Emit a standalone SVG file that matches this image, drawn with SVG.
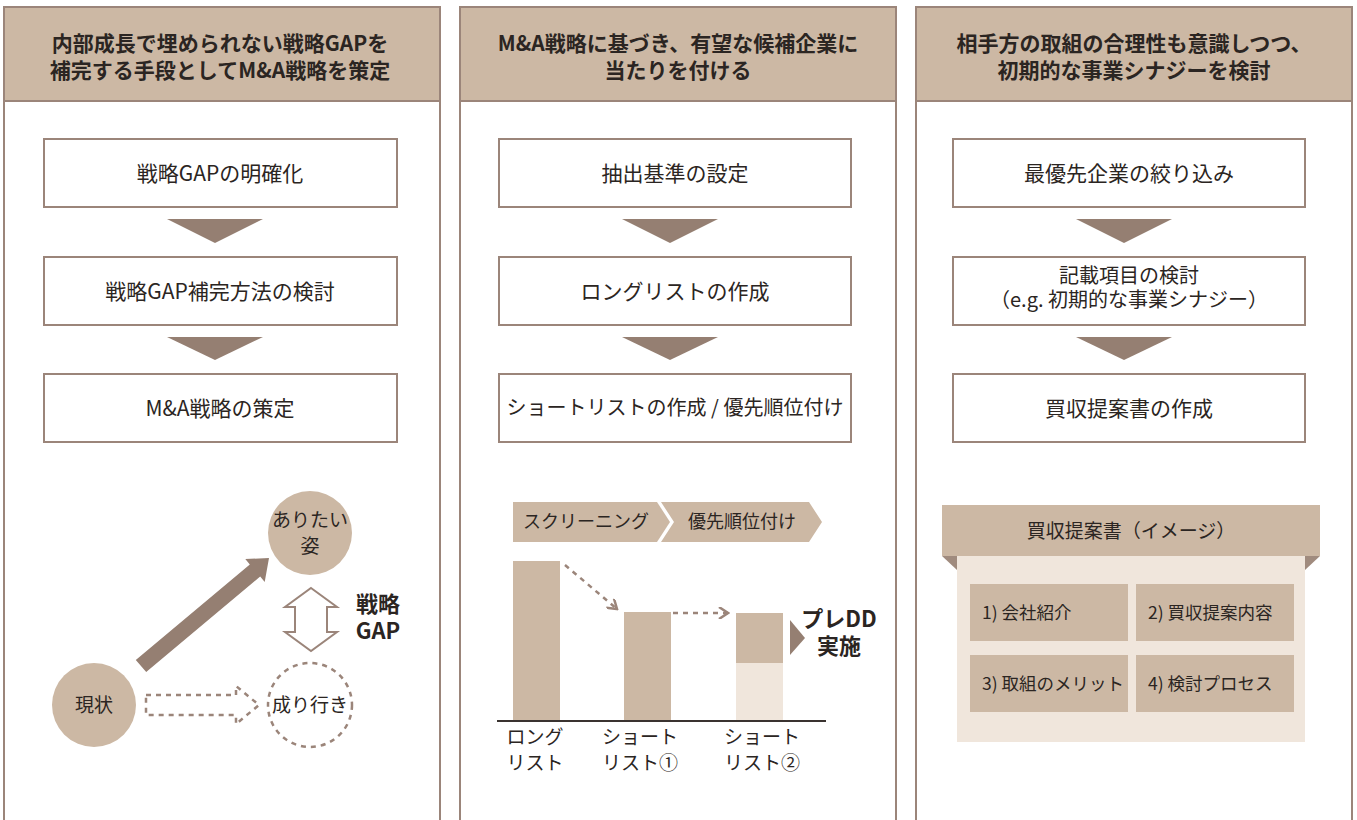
<svg xmlns="http://www.w3.org/2000/svg" width="1357" height="820" viewBox="0 0 1357 820">
<defs>
<style>
text{font-family:"Noto Sans CJK JP","Noto Sans",sans-serif;fill:#2b2522;text-anchor:middle}
.hd{font-size:21px;font-weight:bold}
.bx{font-size:21px}
.bx2{font-size:20px}
.sm{font-size:19px}
.ph{font-size:18px}
.lb{font-size:17.5px;text-anchor:start}
.bd{font-size:22px;font-weight:bold}
.panel{fill:#fff;stroke:#9b857a;stroke-width:2}
.hdr{fill:#ccb8a4;stroke:#9b857a;stroke-width:2}
.box{fill:#fff;stroke:#9b857a;stroke-width:2}
.tri{fill:#957f72}
.tan{fill:#ccb8a4}
.light{fill:#f0e6dc}
.dash{fill:none;stroke:#9b857a;stroke-width:2.5;stroke-dasharray:5 5}
</style>
<marker id="chev" viewBox="0 0 12 12" refX="10" refY="6" markerWidth="12" markerHeight="12" markerUnits="userSpaceOnUse" orient="auto">
<path d="M1,0 L10,6 L1,12" fill="none" stroke="#9b857a" stroke-width="2.5"/>
</marker>
</defs>
<rect width="1357" height="820" fill="#fff"/>

<g id="panel1">
<path class="panel" d="M4,830 V7 H440 V830"/>
<rect class="hdr" x="4" y="7" width="436" height="94"/>
<text class="hd" x="220" y="51">内部成長で埋められない戦略GAPを</text>
<text class="hd" x="220" y="78">補完する手段としてM&amp;A戦略を策定</text>
</g>
<g id="panel2">
<path class="panel" d="M460,830 V7 H896 V830"/>
<rect class="hdr" x="460" y="7" width="436" height="94"/>
<text class="hd" x="678" y="51">M&amp;A戦略に基づき、有望な候補企業に</text>
<text class="hd" x="678" y="78">当たりを付ける</text>
</g>
<g id="panel3">
<path class="panel" d="M916,830 V7 H1352 V830"/>
<rect class="hdr" x="916" y="7" width="436" height="94"/>
<text class="hd" x="1134" y="51">相手方の取組の合理性も意識しつつ、</text>
<text class="hd" x="1134" y="78">初期的な事業シナジーを検討</text>
</g>

<g id="step1-1"><rect class="box" x="44" y="139" width="353" height="68"/><text class="bx" x="220" y="181">戦略GAPの明確化</text></g>
<g id="step1-2"><rect class="box" x="44" y="257" width="353" height="68"/><text class="bx" x="220" y="299">戦略GAP補完方法の検討</text></g>
<g id="step1-3"><rect class="box" x="44" y="374" width="353" height="68"/><text class="bx" x="220" y="416">M&amp;A戦略の策定</text></g>

<g id="step2-1"><rect class="box" x="499" y="139" width="352" height="68"/><text class="bx" x="675" y="181">抽出基準の設定</text></g>
<g id="step2-2"><rect class="box" x="499" y="257" width="352" height="68"/><text class="bx" x="675" y="299">ロングリストの作成</text></g>
<g id="step2-3"><rect class="box" x="499" y="374" width="352" height="68"/><text class="bx2" x="675" y="415">ショートリストの作成 / 優先順位付け</text></g>

<g id="step3-1"><rect class="box" x="953" y="139" width="352" height="68"/><text class="bx" x="1129" y="181">最優先企業の絞り込み</text></g>
<g id="step3-2"><rect class="box" x="953" y="257" width="352" height="68"/><text class="bx2" x="1129" y="283">記載項目の検討</text><text class="bx2" x="1129" y="307">（e.g. 初期的な事業シナジー）</text></g>
<g id="step3-3"><rect class="box" x="953" y="374" width="352" height="68"/><text class="bx" x="1129" y="416">買収提案書の作成</text></g>

<g id="connectors">
<polygon class="tri" points="167,219 263,219 215,243"/>
<polygon class="tri" points="167,337 263,337 215,360"/>
<polygon class="tri" points="622,219 718,219 670,243"/>
<polygon class="tri" points="622,337 718,337 670,360"/>
<polygon class="tri" points="1076,219 1172,219 1124,243"/>
<polygon class="tri" points="1076,337 1172,337 1124,360"/>
<polygon fill="#957f72" points="135.8,659.9 249.8,564.4 245.3,559 269,558 264.7,582 260.2,576.6 146.2,672.1"/>
<polygon fill="#fff" stroke="#9b857a" stroke-width="2" points="311,588 337,607 327,607 327,632 337,632 311,651 285,632 295,632 295,607 285,607"/>
<polygon class="dash" stroke-width="2" points="146,695 236,695 236,686 259,705 236,724 236,715 146,715"/>
<line class="dash" x1="565" y1="565" x2="617" y2="609" marker-end="url(#chev)"/>
<line class="dash" x1="673" y1="613" x2="728" y2="613" marker-end="url(#chev)"/>
</g>

<g id="ideal"><circle class="tan" cx="310" cy="533" r="42"/><text class="sm" x="310" y="527">ありたい</text><text class="sm" x="310" y="553">姿</text></g>
<g id="current"><circle class="tan" cx="94" cy="705" r="42"/><text class="sm" x="94" y="712">現状</text></g>
<g id="trend"><circle cx="310" cy="705" r="42" fill="#fff" class="dash" stroke-width="2.5"/><text class="sm" x="310" y="712">成り行き</text></g>
<g id="gap-label"><text class="bd" x="378" y="612">戦略</text><text class="bd" x="378" y="639">GAP</text></g>

<g id="phase">
<polygon class="tan" points="513,502 657,502 670,522 657,542 513,542"/>
<polygon class="tan" points="661,502 809,502 822,522 809,542 661,542 674,522"/>
<text class="ph" x="586" y="528">スクリーニング</text>
<text class="ph" x="742" y="528">優先順位付け</text>
</g>

<g id="bars">
<rect class="tan" x="513" y="561" width="47" height="160"/>
<rect class="tan" x="624" y="612" width="47" height="109"/>
<rect class="tan" x="736" y="613" width="47" height="50"/>
<rect class="light" x="736" y="663" width="47" height="58"/>
<line x1="497" y1="721" x2="826" y2="721" stroke="#3a3330" stroke-width="2"/>
<text class="sm" x="535" y="744">ロング</text><text class="sm" x="535" y="770">リスト</text>
<text class="sm" x="640" y="744">ショート</text><text class="sm" x="640" y="770">リスト①</text>
<text class="sm" x="762" y="744">ショート</text><text class="sm" x="762" y="770">リスト②</text>
</g>

<g id="prdd">
<polygon fill="#957f72" points="790,620 805,638 790,655"/>
<text class="bd" x="839" y="627">プレDD</text>
<text class="bd" x="839" y="654">実施</text>
</g>

<g id="proposal">
<rect class="light" x="957" y="556" width="348" height="186"/>
<polygon fill="#a08b7e" points="942,556 957,556 957,570"/>
<polygon fill="#a08b7e" points="1305,556 1320,556 1305,570"/>
<rect class="tan" x="942" y="505" width="378" height="51"/>
<text class="sm" x="1131" y="538">買収提案書（イメージ）</text>
<rect class="tan" x="970" y="584" width="158" height="57"/>
<rect class="tan" x="1136" y="584" width="158" height="57"/>
<rect class="tan" x="970" y="655" width="158" height="57"/>
<rect class="tan" x="1136" y="655" width="158" height="57"/>
<text class="lb" x="982" y="619">1) 会社紹介</text>
<text class="lb" x="1148" y="619">2) 買収提案内容</text>
<text class="lb" x="982" y="690">3) 取組のメリット</text>
<text class="lb" x="1148" y="690">4) 検討プロセス</text>
</g>
</svg>
